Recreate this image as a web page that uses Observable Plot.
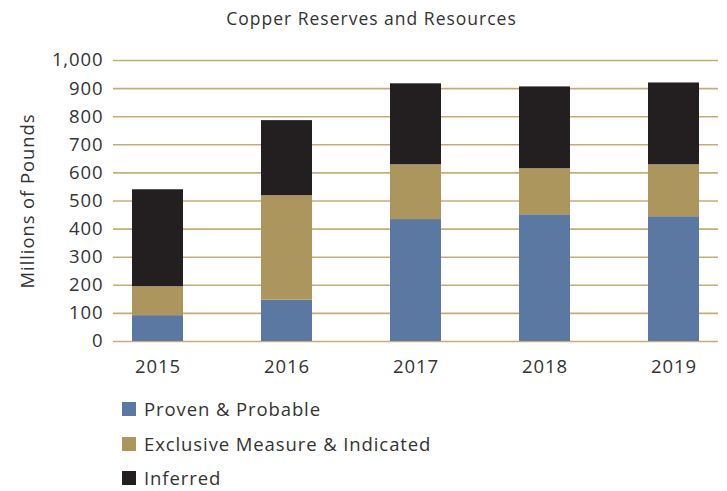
<!DOCTYPE html>
<html>
<head>
<meta charset="utf-8">
<script src="https://cdn.jsdelivr.net/npm/d3@7"></script>
<script src="https://cdn.jsdelivr.net/npm/@observablehq/plot@0.6"></script>
<style>
  html, body { margin: 0; padding: 0; background: #fff; overflow: hidden; }
  body { width: 727px; font-family: "Open Sans", sans-serif; color: #333; }
  #title { height: 36px; line-height: 36px; text-align: center; font-size: 17.5px; letter-spacing: 1px; padding-left: 16px; box-sizing: border-box; }
  #legend { padding-left: 122px; margin-top: 14px; }
  .item { display: flex; align-items: center; height: 18px; line-height: 18px; margin-bottom: 16.5px; font-size: 18.5px; letter-spacing: 0.9px; }
  .sw { width: 14px; height: 14px; margin-right: 8px; flex: none; }
  svg text { letter-spacing: 0.9px; }
</style>
</head>
<body>
<div id="title">Copper Reserves and Resources</div>
<div id="chart"></div>
<div id="legend"></div>
<script>
const years = ["2015", "2016", "2017", "2018", "2019"];
const categories = ["Proven & Probable", "Exclusive Measure & Indicated", "Inferred"];
const colors = ["#5b78a2", "#ad955e", "#231f20"];
const provenProbable = [92, 147, 434, 451, 444];
const measuredIndicated = [103, 372, 195, 164, 185];
const inferred = [345, 267, 288, 291, 291];
const yTicks = [0, 100, 200, 300, 400, 500, 600, 700, 800, 900, 1000];

const series = [provenProbable, measuredIndicated, inferred];
const data = [];
categories.forEach((c, i) => years.forEach((y, j) => data.push({year: y, category: c, value: series[i][j]})));

const chart = Plot.plot({
  width: 727,
  height: 350,
  marginTop: 24,
  marginBottom: 45,
  marginLeft: 113,
  marginRight: 9,
  style: {fontFamily: "Open Sans, sans-serif", fontSize: "18.5px", color: "#333"},
  x: {domain: years, paddingInner: 0.608, paddingOuter: 0.131, label: null, tickSize: 0, tickPadding: 18},
  y: {domain: [0, 1000], ticks: yTicks, tickFormat: d3.format(","), tickSize: 0, tickPadding: 10,
      label: "Millions of Pounds", labelAnchor: "center", labelArrow: "none", labelOffset: 93},
  color: {domain: categories, range: colors},
  marks: [
    Plot.ruleY(yTicks, {stroke: "#c4ae78", strokeWidth: 1.6}),
    Plot.barY(data, {x: "year", y: "value", fill: "category", order: categories})
  ]
});
document.getElementById("chart").appendChild(chart);

const legend = document.getElementById("legend");
categories.forEach((c, i) => {
  const d = document.createElement("div");
  d.className = "item";
  d.innerHTML = `<span class="sw" style="background:${colors[i]}"></span><span>${c}</span>`;
  legend.appendChild(d);
});
</script>
</body>
</html>
